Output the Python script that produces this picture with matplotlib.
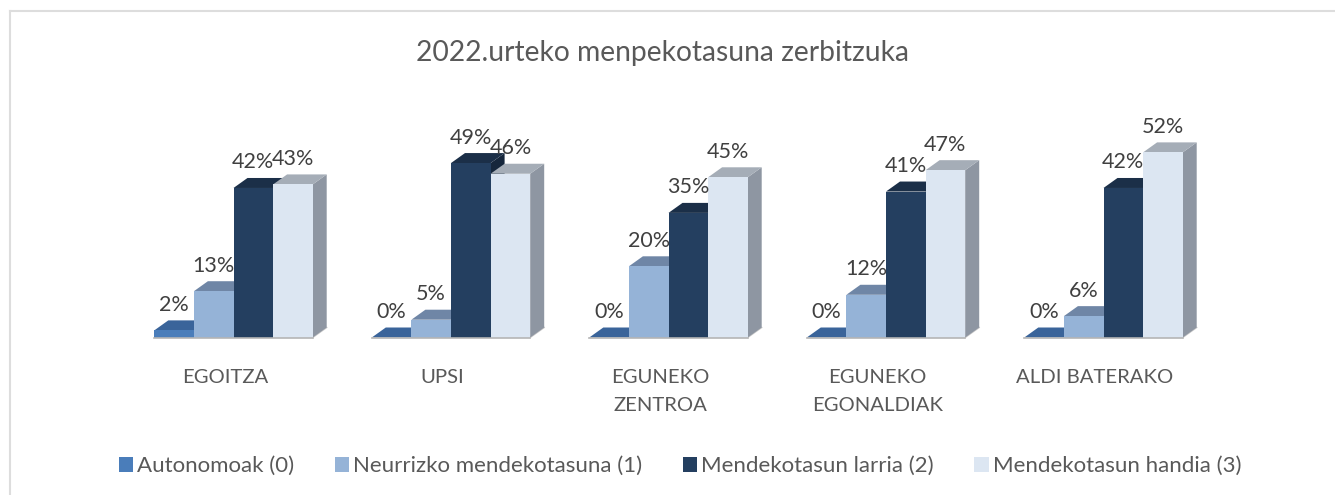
import matplotlib
matplotlib.use("Agg")
import matplotlib.pyplot as plt
from matplotlib.lines import Line2D
from matplotlib.patches import Polygon, Patch

W, H = 1335, 495
categories = ["EGOITZA", "UPSI", "EGUNEKO\nZENTROA", "EGUNEKO\nEGONALDIAK", "ALDI BATERAKO"]
series_names = ["Autonomoak (0)", "Neurrizko mendekotasuna (1)", "Mendekotasun larria (2)", "Mendekotasun handia (3)"]
autonomoak = [2, 0, 0, 0, 0]
neurrizko = [13, 5, 20, 12, 6]
larria = [42, 49, 35, 41, 42]
handia = [43, 46, 45, 47, 52]
title = "2022.urteko menpekotasuna zerbitzuka"

series = [autonomoak, neurrizko, larria, handia]
front = ["#4A7DBA", "#95B3D7", "#243F60", "#DCE6F2"]
top = ["#3A649A", "#6F86A6", "#1B2F48", "#A5ADB7"]
side = ["#2F5480", "#75899F", "#16273C", "#8E96A2"]

plt.rcParams["font.family"] = ["Lato", "DejaVu Sans"]
fig = plt.figure(figsize=(W / 100, H / 100), dpi=100)
# chart border shows only along the top and left edges of the crop
fig.add_artist(Line2D([9.5 / W, 9.5 / W], [0, 1 - 10.5 / H], color="#DDDDDD", lw=1.5))
fig.add_artist(Line2D([9.5 / W, 1], [1 - 10.5 / H, 1 - 10.5 / H], color="#DDDDDD", lw=1.5))

# axes spans five groups of 217.5 px each; baseline at y=337.5 px
PX_GROUP = 217.5
PX_PCT = 3.56
left, base = 124.75, 337.5
ax = fig.add_axes([left / W, 1 - base / H, 5 * PX_GROUP / W, 60 * PX_PCT / H])
ax.set_xlim(-0.5, 4.5)
ax.set_ylim(0, 60)
ax.patch.set_alpha(0)
for s in ax.spines.values():
    s.set_visible(False)
ax.set_yticks([])

bw = 39.6 / PX_GROUP
dx = 14 / PX_GROUP
dy = 10 / PX_PCT

for g in range(len(categories)):
    for j, vals in enumerate(series):
        v = vals[g]
        x0 = g + (j - 2) * bw
        x1 = x0 + bw
        z = 2 + j
        ax.add_patch(Polygon([(x1, 0), (x1 + dx, dy), (x1 + dx, v + dy), (x1, v)], fc=side[j], ec="none", zorder=z, clip_on=False))
        ax.add_patch(Polygon([(x0, v), (x0 + dx, v + dy), (x1 + dx, v + dy), (x1, v)], fc=top[j], ec="none", zorder=z, clip_on=False))
        ax.bar(x0 + bw / 2, v, width=bw, color=front[j], zorder=z, clip_on=False)
        ax.text(x0 + bw / 2, v + dy + 15.5 / PX_PCT, f"{v}%", ha="center", va="center",
                fontsize=15.5, color="#404040", zorder=10, clip_on=False)
    ax.plot([g - 2 * bw, g + 2 * bw], [0, 0], color="#B5B5B5", lw=1.2, zorder=7, clip_on=False)
    ax.plot([g + 2 * bw, g + 2 * bw + dx], [0, dy], color="#C8C8C8", lw=1, zorder=1, clip_on=False)

# category labels sit 8.5 px left of each group's centre
ax.set_xticks([g - 8.5 / PX_GROUP for g in range(len(categories))])
ax.set_xticklabels(categories, fontsize=14.6, color="#595959", linespacing=1.78, va="top")
ax.tick_params(axis="x", length=0, pad=23)

fig.text(663 / W, 1 - 53 / H, title, ha="center", va="center", fontsize=20.3, color="#595959")

handles = [Patch(fc=c, ec="none") for c in front]
fig.legend(handles, series_names, loc="center", bbox_to_anchor=(680 / W, 1 - 466 / H), ncols=4,
           frameon=False, fontsize=16, labelcolor="#595959", handlelength=0.65, handleheight=0.65,
           handletextpad=0.2, columnspacing=1.8)

fig.savefig("out.png", dpi=100)
